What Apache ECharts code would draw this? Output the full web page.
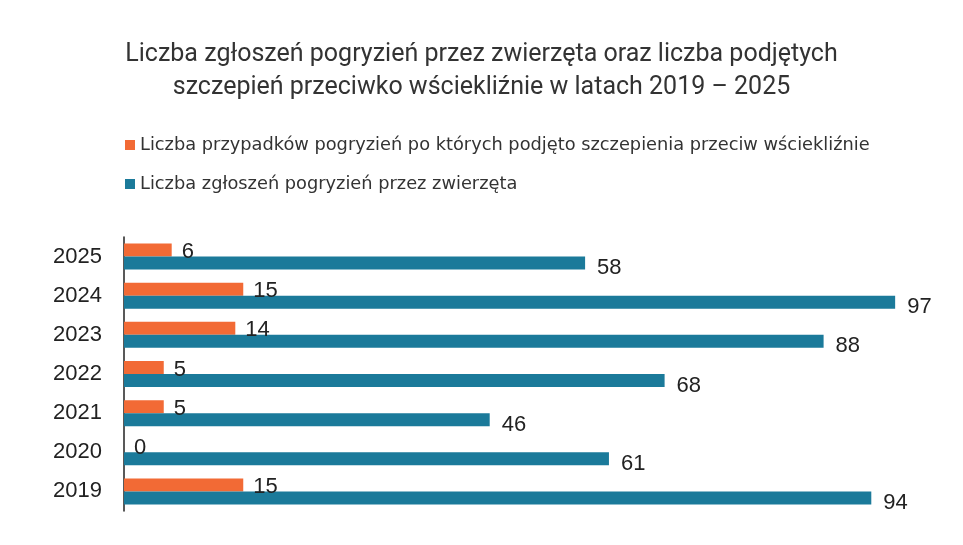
<!DOCTYPE html>
<html>
<head>
<meta charset="utf-8">
<script src="https://cdn.jsdelivr.net/npm/echarts@6/dist/echarts.min.js"></script>
<style>
html, body { margin: 0; padding: 0; background: #fff; }
#chart { width: 963px; height: 545px; }
</style>
</head>
<body>
<div id="chart"></div>
<script>
var years = ['2019', '2020', '2021', '2022', '2023', '2024', '2025'];
var szczepienia = [15, 0, 5, 5, 14, 15, 6];
var zgloszenia = [94, 61, 46, 68, 88, 97, 58];

var nameSzcz = 'Liczba przypadków pogryzień po których podjęto szczepienia przeciw wściekliźnie';
var nameZgl = 'Liczba zgłoszeń pogryzień przez zwierzęta';

var myChart = echarts.init(document.getElementById('chart'));
var option = {
    backgroundColor: '#fff',
    title: {
        text: 'Liczba zgłoszeń pogryzień przez zwierzęta oraz liczba podjętych\nszczepień przeciwko wściekliźnie w latach 2019 – 2025',
        left: 'center',
        top: 33,
        textStyle: {
            fontFamily: 'Roboto, sans-serif',
            fontSize: 25,
            fontWeight: 'normal',
            color: '#333',
            lineHeight: 33
        }
    },
    legend: {
        orient: 'vertical',
        left: 120,
        top: 131,
        itemWidth: 10,
        itemHeight: 10,
        itemGap: 21,
        icon: 'rect',
        data: [nameSzcz, nameZgl],
        textStyle: {
            fontFamily: 'DejaVu Sans, sans-serif',
            fontSize: 17.8,
            color: '#333'
        }
    },
    grid: {
        left: 124,
        right: 44,
        top: 237,
        bottom: 34
    },
    xAxis: {
        type: 'value',
        min: 0,
        max: 100,
        show: false
    },
    yAxis: {
        type: 'category',
        data: years,
        axisLine: { show: true, lineStyle: { color: '#222', width: 1.5 } },
        axisTick: { show: false },
        axisLabel: {
            margin: 22,
            fontFamily: 'Liberation Sans, Arial, sans-serif',
            fontSize: 22,
            color: '#222'
        }
    },
    series: [
        {
            name: nameSzcz,
            type: 'bar',
            data: szczepienia,
            barWidth: 13,
            barGap: '0%',
            itemStyle: { color: '#f26a35' },
            label: {
                show: true,
                position: 'right',
                distance: 10,
                offset: [0, 2],
                fontFamily: 'Liberation Sans, Arial, sans-serif',
                fontSize: 22,
                color: '#222'
            }
        },
        {
            name: nameZgl,
            type: 'bar',
            data: zgloszenia,
            barWidth: 13,
            barGap: '0%',
            itemStyle: { color: '#1b7a9a' },
            label: {
                show: true,
                position: 'right',
                distance: 12,
                offset: [0, 5],
                fontFamily: 'Liberation Sans, Arial, sans-serif',
                fontSize: 22,
                color: '#222'
            }
        }
    ]
};
myChart.setOption(option);
</script>
</body>
</html>
